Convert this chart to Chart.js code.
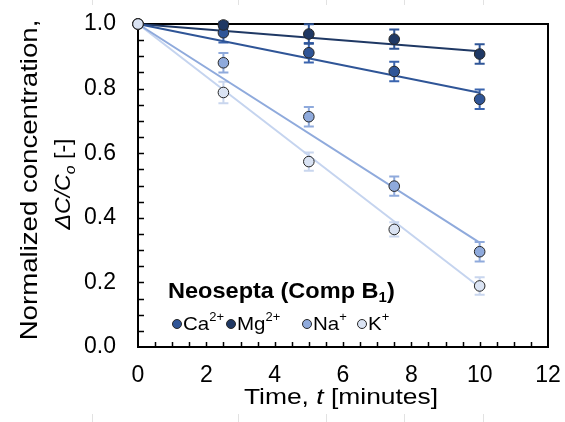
<!DOCTYPE html>
<html>
<head>
<meta charset="utf-8">
<script src="https://cdn.jsdelivr.net/npm/chart.js@4/dist/chart.umd.min.js"></script>
<style>
  html, body { margin: 0; padding: 0; background: #fff; }
</style>
</head>
<body>
<canvas id="chart" width="565" height="422"></canvas>
<script>
// sampling times [minutes] and normalized concentration per ion
const times = [0, 2.5, 5, 7.5, 10];
const ca = [1.0, 0.973, 0.911, 0.853, 0.767];
const mg = [1.0, 0.997, 0.969, 0.953, 0.907];
const na = [1.0, 0.880, 0.713, 0.498, 0.295];
const k  = [1.0, 0.788, 0.574, 0.364, 0.189];

// standard deviations
const caErr = [0, 0.03, 0.03, 0.03, 0.03];
const mgErr = [0, 0.01, 0.03, 0.03, 0.03];
const naErr = [0, 0.03, 0.03, 0.03, 0.03];
const kErr  = [0, 0.033, 0.028, 0.022, 0.027];

// linear fits, start and end
const fitTimes = [0, 10];
const caFit = [1.0, 0.787];
const mgFit = [1.0, 0.916];
const naFit = [1.0, 0.323];
const kFit  = [1.0, 0.185];

const xTicks = [0, 2, 4, 6, 8, 10, 12];
const yTicks = [0, 0.2, 0.4, 0.6, 0.8, 1.0];

const FONT = '"Liberation Sans", Arial, Helvetica, sans-serif';
const colors = {
  ca: '#2f5597', mg: '#1f3864', na: '#8faadc', k: '#dae3f3'
};

function pts(ys) {
  return times.map((t, i) => ({ x: t, y: ys[i] }));
}

function pointSet(label, ys, err, fill, bar, order) {
  return {
    label: label,
    data: pts(ys),
    errors: err,
    errColor: bar,
    showLine: false,
    pointRadius: 5.3,
    pointBackgroundColor: fill,
    pointBorderColor: '#262626',
    pointBorderWidth: 1,
    order: order,
    clip: false
  };
}

function fitSet(ys, color) {
  return {
    data: fitTimes.map((t, i) => ({ x: t, y: ys[i] })),
    showLine: true,
    borderColor: color,
    borderWidth: 2,
    pointRadius: 0,
    order: 10,
    clip: false
  };
}

// text with mixed fonts, optionally stretched sideways
function drawRich(ctx, runs, x, y, sx, align) {
  let w = 0;
  runs.forEach(r => { ctx.font = r[1]; w += ctx.measureText(r[0]).width; });
  ctx.save();
  ctx.translate(x, y);
  ctx.scale(sx, 1);
  let cx = align === 'center' ? -w / 2 : 0;
  ctx.textBaseline = 'alphabetic';
  ctx.textAlign = 'left';
  runs.forEach(r => {
    ctx.font = r[1];
    ctx.fillText(r[0], cx, r[2] || 0);
    cx += ctx.measureText(r[0]).width;
  });
  ctx.restore();
  return w * sx;
}

// faint page guides at the top and bottom edges
const guides = {
  id: 'guides',
  beforeDraw(chart) {
    const ctx = chart.ctx;
    ctx.save();
    ctx.strokeStyle = '#e2e2e2';
    ctx.lineWidth = 1;
    ctx.beginPath();
    [92, 238, 326, 404, 483].forEach(gx => {
      ctx.moveTo(gx + 0.5, 0); ctx.lineTo(gx + 0.5, 5);
      ctx.moveTo(gx + 0.5, 414); ctx.lineTo(gx + 0.5, 422);
    });
    ctx.stroke();
    ctx.restore();
  }
};

// box, inward ticks and error bars
const frame = {
  id: 'frame',
  beforeDatasetsDraw(chart) {
    const { ctx, chartArea: a, scales: { x, y } } = chart;
    ctx.save();
    ctx.strokeStyle = '#000';
    ctx.lineWidth = 2;
    ctx.strokeRect(a.left, a.top, a.right - a.left, a.bottom - a.top);

    ctx.lineWidth = 1.5;
    ctx.beginPath();
    for (let v = 0.5; v < 12; v += 0.5) {
      const px = Math.round(x.getPixelForValue(v)) + 0.5;
      ctx.moveTo(px, a.bottom); ctx.lineTo(px, a.bottom - 5);
    }
    for (let i = 1; i < 20; i++) {
      const py = Math.round(y.getPixelForValue(i * 0.05)) + 0.5;
      ctx.moveTo(a.left, py); ctx.lineTo(a.left + 6, py);
    }
    ctx.stroke();

    chart.data.datasets.forEach(ds => {
      if (!ds.errors) return;
      ctx.strokeStyle = ds.errColor;
      ctx.lineWidth = 2;
      ctx.beginPath();
      ds.data.forEach((p, i) => {
        const e = ds.errors[i];
        if (!e) return;
        const px = x.getPixelForValue(p.x);
        const top = y.getPixelForValue(p.y + e);
        const bot = y.getPixelForValue(p.y - e);
        ctx.moveTo(px, top); ctx.lineTo(px, bot);
        ctx.moveTo(px - 5, top); ctx.lineTo(px + 5, top);
        ctx.moveTo(px - 5, bot); ctx.lineTo(px + 5, bot);
      });
      ctx.stroke();
    });
    ctx.restore();
  }
};

// axis titles and the ion key
const labels = {
  id: 'labels',
  afterDraw(chart) {
    const ctx = chart.ctx;
    ctx.save();
    ctx.fillStyle = '#000';

    drawRich(ctx, [
      ['Time, ', '22px ' + FONT],
      ['t', 'italic 22px ' + FONT],
      [' [minutes]', '22px ' + FONT]
    ], 341, 404, 1.2, 'center');

    ctx.save();
    ctx.translate(37, 180);
    ctx.rotate(-Math.PI / 2);
    drawRich(ctx, [['Normalized concentration,', '24px ' + FONT]], 0, 0, 1.15, 'center');
    ctx.restore();

    ctx.save();
    ctx.translate(70, 184);
    ctx.rotate(-Math.PI / 2);
    drawRich(ctx, [
      ['\u0394C/C', 'italic 22px ' + FONT],
      ['o', 'italic 15px ' + FONT, 5],
      [' [-]', '22px ' + FONT]
    ], 0, 0, 1.05, 'center');
    ctx.restore();

    drawRich(ctx, [
      ['Neosepta (Comp B', 'bold 22px ' + FONT],
      ['1', 'bold 14px ' + FONT, 4],
      [')', 'bold 22px ' + FONT]
    ], 168, 298, 1.07, 'left');

    const keys = [
      ['Ca', '2+', colors.ca],
      ['Mg', '2+', colors.mg],
      ['Na', '+', colors.na],
      ['K', '+', colors.k]
    ];
    const keyX = [172, 226, 302, 357];
    keys.forEach((kk, i) => {
      const cx = keyX[i] + 5;
      ctx.beginPath();
      ctx.arc(cx, 324, 4.5, 0, Math.PI * 2);
      ctx.fillStyle = kk[2];
      ctx.fill();
      ctx.strokeStyle = '#262626';
      ctx.lineWidth = 1;
      ctx.stroke();
      ctx.fillStyle = '#000';
      drawRich(ctx, [
        [kk[0], '19px ' + FONT],
        [kk[1], '12px ' + FONT, -9]
      ], keyX[i] + 11, 330, 1.08, 'left');
    });
    ctx.restore();
  }
};

new Chart(document.getElementById('chart'), {
  type: 'scatter',
  data: {
    datasets: [
      fitSet(caFit, colors.ca),
      fitSet(mgFit, colors.mg),
      fitSet(naFit, colors.na),
      fitSet(kFit, '#c5d4ef'),
      pointSet('Ca2+', ca, caErr, colors.ca, '#3a64ae', 4),
      pointSet('Mg2+', mg, mgErr, colors.mg, '#2f5597', 3),
      pointSet('Na+', na, naErr, colors.na, '#8faadc', 2),
      pointSet('K+', k, kErr, colors.k, '#c9d6ee', 1)
    ]
  },
  options: {
    responsive: false,
    animation: false,
    devicePixelRatio: 1,
    layout: { padding: { top: 24, right: 17, left: 0, bottom: 0 } },
    plugins: {
      legend: { display: false },
      tooltip: { enabled: false }
    },
    scales: {
      x: {
        type: 'linear',
        min: 0,
        max: 12,
        grid: { display: false, drawTicks: false },
        border: { display: false },
        afterBuildTicks: s => { s.ticks = xTicks.map(v => ({ value: v })); },
        afterFit: s => {
          s.height = 75;
          s.paddingLeft = 0;
          s.paddingRight = 0;
        },
        ticks: {
          color: '#000',
          font: { family: FONT, size: 23 },
          padding: 15,
          maxRotation: 0
        }
      },
      y: {
        min: 0,
        max: 1,
        grid: { display: false, drawTicks: false },
        border: { display: false },
        afterBuildTicks: s => { s.ticks = yTicks.map(v => ({ value: v })); },
        afterFit: s => {
          s.width = 138;
          s.paddingTop = 0;
          s.paddingBottom = 0;
        },
        ticks: {
          color: '#000',
          font: { family: FONT, size: 23 },
          padding: 22,
          callback: v => v.toFixed(1)
        }
      }
    }
  },
  plugins: [guides, frame, labels]
});
</script>
</body>
</html>
